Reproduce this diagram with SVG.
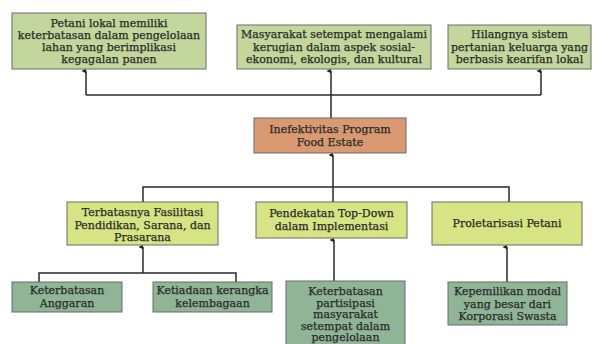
<svg xmlns="http://www.w3.org/2000/svg" width="594" height="344" viewBox="0 0 594 344">
<defs>
<marker id="ah" viewBox="0 0 6 6" refX="3" refY="5.5" markerWidth="5" markerHeight="5" orient="auto-start-reverse" markerUnits="userSpaceOnUse">
<path d="M0,6 L3,0 L6,6 Z" fill="#222"/>
</marker>
<style>
.box{stroke:#6b6b6b;stroke-width:1}
.g1{fill:#c3d69b}
.g2{fill:#d7e483}
.g3{fill:#8fb496}
.or{fill:#d99a72}
text{font-family:"DejaVu Serif","Liberation Serif",serif;font-size:11px;fill:#2a2a2a;stroke:#2a2a2a;stroke-width:0.25;text-anchor:middle}
.ln{fill:none;stroke:#2a2a2a;stroke-width:1.5}
</style>
</defs>
<rect width="594" height="344" fill="#ffffff"/>
<g id="connectors">
<path class="ln" d="M86,95 H541"/>
<path class="ln" d="M86,95 V71" marker-end="url(#ah)"/>
<path class="ln" d="M541,95 V71" marker-end="url(#ah)"/>
<path class="ln" d="M331,118 V71" marker-end="url(#ah)"/>
<path class="ln" d="M143,202 V187 H509 V202"/>
<path class="ln" d="M333,202 V155" marker-end="url(#ah)"/>
<path class="ln" d="M39,282 V273 H236 V282"/>
<path class="ln" d="M143,273 V247" marker-end="url(#ah)"/>
<path class="ln" d="M334,281 V240" marker-end="url(#ah)"/>
<path class="ln" d="M507,282 V247" marker-end="url(#ah)"/>
</g>
<g id="n1"><rect class="box g1" x="12" y="13" width="194" height="56"/>
<text x="109" y="27">Petani lokal memiliki</text>
<text x="109" y="39">keterbatasan dalam pengelolaan</text>
<text x="109" y="51">lahan yang berimplikasi</text>
<text x="109" y="63">kegagalan panen</text></g>
<g id="n2"><rect class="box g1" x="237" y="25" width="194" height="44"/>
<text x="334" y="38">Masyarakat setempat mengalami</text>
<text x="334" y="50.5">kerugian dalam aspek sosial-</text>
<text x="334" y="63">ekonomi, ekologis, dan kultural</text></g>
<g id="n3"><rect class="box g1" x="448" y="25" width="143" height="44"/>
<text x="519.5" y="38">Hilangnya sistem</text>
<text x="519.5" y="50.5">pertanian keluarga yang</text>
<text x="519.5" y="63">berbasis kearifan lokal</text></g>
<g id="center"><rect class="box or" x="254" y="118" width="152" height="35"/>
<text x="330" y="133">Inefektivitas Program</text>
<text x="330" y="146">Food Estate</text></g>
<g id="a"><rect class="box g2" x="67" y="202" width="151" height="43"/>
<text x="142.5" y="216">Terbatasnya Fasilitasi</text>
<text x="142.5" y="228.5">Pendidikan, Sarana, dan</text>
<text x="142.5" y="241">Prasarana</text></g>
<g id="b"><rect class="box g2" x="256" y="202" width="151" height="36"/>
<text x="331.5" y="217">Pendekatan Top-Down</text>
<text x="331.5" y="230">dalam Implementasi</text></g>
<g id="c"><rect class="box g2" x="432" y="202" width="150" height="43"/>
<text x="507" y="227">Proletarisasi Petani</text></g>
<g id="a1"><rect class="box g3" x="12" y="282" width="110" height="30"/>
<text x="67" y="294">Keterbatasan</text>
<text x="67" y="306.5">Anggaran</text></g>
<g id="a2"><rect class="box g3" x="153" y="282" width="119" height="30"/>
<text x="212.5" y="294">Ketiadaan kerangka</text>
<text x="212.5" y="306.5">kelembagaan</text></g>
<g id="b1"><rect class="box g3" x="286" y="281" width="119" height="70"/>
<text x="345.5" y="295">Keterbatasan</text>
<text x="345.5" y="306.5">partisipasi</text>
<text x="345.5" y="318">masyarakat</text>
<text x="345.5" y="329.5">setempat dalam</text>
<text x="345.5" y="341">pengelolaan</text></g>
<g id="c1"><rect class="box g3" x="448" y="282" width="119" height="43"/>
<text x="507.5" y="295">Kepemilikan modal</text>
<text x="507.5" y="307.5">yang besar dari</text>
<text x="507.5" y="320">Korporasi Swasta</text></g>
</svg>
